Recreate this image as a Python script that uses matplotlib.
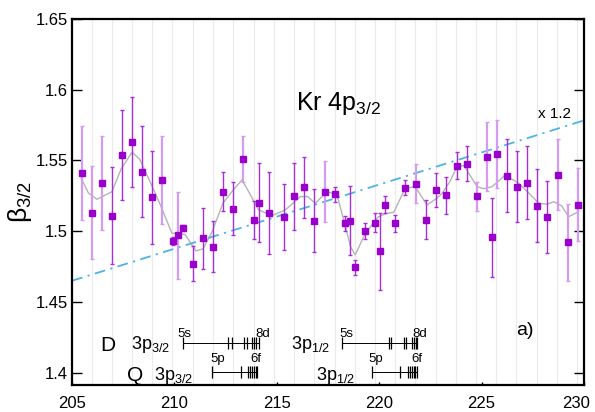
import numpy as np
import matplotlib
matplotlib.use('Agg')
import matplotlib.pyplot as plt
from matplotlib.transforms import ScaledTranslation

plt.rcParams['font.family'] = ['Liberation Sans', 'DejaVu Sans']
plt.rcParams['mathtext.fontset'] = 'custom'
plt.rcParams['mathtext.rm'] = 'Liberation Sans'
plt.rcParams['mathtext.it'] = 'Liberation Sans:italic'

# photon energy (eV), beta, error, light/dark error bar
energy = [205.47, 205.96, 206.46, 206.95, 207.44, 207.93, 208.42, 208.91, 209.39, 209.95,
          210.19, 210.43, 210.92, 211.41, 211.90, 212.39, 212.88, 213.36, 213.89, 214.15,
          214.63, 215.37, 215.85, 216.34, 216.83, 217.34, 217.86, 218.34, 218.59, 218.83,
          219.32, 219.81, 220.05, 220.30, 220.78, 221.27, 221.80, 222.30, 222.79, 223.28,
          223.78, 224.27, 224.76, 225.28, 225.52, 225.77, 226.26, 226.74, 227.23, 227.72,
          228.21, 228.72, 229.23, 229.72]
beta = [1.541, 1.513, 1.534, 1.511, 1.554, 1.563, 1.542, 1.524, 1.536, 1.493,
        1.497, 1.502, 1.477, 1.495, 1.489, 1.528, 1.516, 1.551, 1.508, 1.520,
        1.513, 1.510, 1.5245, 1.531, 1.5075, 1.528, 1.526, 1.5054, 1.5075, 1.4743,
        1.5004, 1.5061, 1.4856, 1.5188, 1.5054, 1.5308, 1.5336, 1.5082, 1.5294, 1.5252,
        1.5463, 1.5478, 1.5245, 1.5527, 1.4955, 1.5548, 1.5393, 1.5315, 1.5343, 1.5181,
        1.5103, 1.540, 1.492, 1.5188]
beta_err = [0.033, 0.033, 0.033, 0.034, 0.032, 0.032, 0.032, 0.033, 0.031, 0.003,
            0.031, 0.002, 0.0125, 0.0215, 0.018, 0.0135, 0.019, 0.016, 0.0136, 0.028,
            0.029, 0.0235, 0.024, 0.0217, 0.022, 0.0218, 0.0055, 0.005, 0.0247, 0.0053,
            0.0057, 0.0064, 0.027, 0.0057, 0.006, 0.0053, 0.0138, 0.0139, 0.012, 0.0128,
            0.0095, 0.0126, 0.0105, 0.0245, 0.028, 0.024, 0.026, 0.025, 0.026, 0.026,
            0.0255, 0.025, 0.027, 0.026]
light_bar = [1, 1, 1, 0, 0, 0, 0, 0, 1, 0,
             1, 0, 0, 0, 0, 0, 0, 1, 0, 0,
             0, 0, 0, 0, 0, 1, 0, 0, 0, 0,
             0, 0, 0, 0, 0, 0, 1, 0, 0, 0,
             0, 0, 1, 1, 0, 1, 0, 0, 0, 0,
             0, 1, 1, 1]

# smooth curve
curve_x = [205.45, 205.8, 206.22, 206.95, 207.4, 207.93, 208.3, 208.9, 209.3, 209.88,
           210.2, 210.53, 211.05, 211.4, 211.84, 212.38, 212.81, 213.3, 213.7, 214.11,
           214.77, 215.42, 216.15, 216.5, 216.88, 217.45, 217.94, 218.35, 218.6, 218.83,
           219.32, 219.97, 220.35, 220.71, 221.27, 221.76, 222.33, 222.79, 223.07, 223.45,
           223.8, 224.13, 224.5, 224.78, 225.1, 225.51, 226.16, 226.81, 227.3, 227.79,
           228.2, 228.52, 228.9, 229.25, 229.74]
curve_y = [1.5374, 1.527, 1.5225, 1.5279, 1.544, 1.5558, 1.551, 1.5321, 1.519, 1.4985,
           1.4985, 1.4975, 1.486, 1.4875, 1.4996, 1.520, 1.528, 1.5362, 1.526, 1.515,
           1.511, 1.515, 1.5244, 1.5245, 1.5197, 1.528, 1.5256, 1.5032, 1.489, 1.4832,
           1.4985, 1.5102, 1.5125, 1.5133, 1.5303, 1.5314, 1.5185, 1.523, 1.5267, 1.535,
           1.5456, 1.5463, 1.538, 1.5314, 1.530, 1.5314, 1.5397, 1.5338, 1.527, 1.5197,
           1.519, 1.5208, 1.518, 1.5102, 1.5138]

# x 1.2 reference line
ref_x = [205, 230]
ref_y = [1.4649, 1.5783]

grid_e = [205.96, 206.95, 207.93, 208.91, 209.9, 210.92, 211.9, 212.88, 213.87, 214.85,
          215.85, 216.83, 217.82, 218.8, 219.8, 220.78, 221.77, 222.76, 223.74, 224.73,
          225.72, 226.7, 227.69, 228.68, 229.67]

# Auger level markers (D = diagram, Q = satellite)
d32_ticks = [210.40, 212.63, 212.79, 213.41, 213.55, 213.77, 213.89, 214.0, 214.12]
q32_ticks = [211.86, 213.23, 213.6, 213.71, 213.81, 213.89, 213.98, 214.04]
d12_ticks = [218.2, 220.46, 220.6, 221.21, 221.33, 221.6, 221.7, 221.78, 221.86]
q12_ticks = [219.65, 221.0, 221.41, 221.52, 221.62, 221.7, 221.77, 221.83]

yticks = [1.4, 1.45, 1.5, 1.55, 1.6, 1.65]
ytick_labels = ['1.4', '1.45', '1.5', '1.55', '1.6', '1.65']
xticks = [205, 210, 215, 220, 225, 230]

fig = plt.figure(figsize=(5.95, 4.12), dpi=100)
ax = fig.add_axes([72 / 595, 1 - 385 / 412, 512 / 595, 366 / 412])

ax.set_xticks(grid_e, minor=True)
ax.grid(True, which='minor', axis='x', color='#ebebeb', lw=0.8, zorder=0)

ax.plot(curve_x, curve_y, color='#b4b4b4', lw=1.0, zorder=2)
ax.plot(ref_x, ref_y, color='#4db3e6', lw=1.3, ls=(0, (6, 3, 1.2, 3)), zorder=2.5)

e = np.array(energy)
b = np.array(beta)
er = np.array(beta_err)
lb = np.array(light_bar, dtype=bool)
ax.errorbar(e[lb], b[lb], yerr=er[lb], fmt='none', ecolor='#d49bf0', elinewidth=1.6,
            capsize=1.2, capthick=1.0, zorder=3)
ax.errorbar(e[~lb], b[~lb], yerr=er[~lb], fmt='none', ecolor='#a52fd9', elinewidth=1.0,
            capsize=1.2, capthick=1.0, zorder=3)
ax.plot(e, b, 's', ms=5.0, color='#9900cc', mec='#9900cc', zorder=4)

# level diagrams
rows = [(d32_ticks, 1.4207), (q32_ticks, 1.4002), (d12_ticks, 1.4207), (q12_ticks, 1.4002)]
for ticks, yy in rows:
    ax.plot([ticks[0], ticks[-1]], [yy, yy], color='k', lw=0.7, zorder=3)
    ax.vlines(ticks, yy - 0.0041, yy + 0.0041, color='k', lw=0.9, zorder=3)

ax.text(206.76, 1.4153, 'D', fontsize=15, ha='center', va='baseline')
ax.text(208.1, 1.3943, 'Q', fontsize=15, ha='center', va='baseline')
ax.text(209.8, 1.4167, r'3p$_{\mathregular{3/2}}$', fontsize=13, ha='right', va='baseline')
ax.text(210.9, 1.3950, r'3p$_{\mathregular{3/2}}$', fontsize=13, ha='right', va='baseline')
ax.text(217.6, 1.4167, r'3p$_{\mathregular{1/2}}$', fontsize=13, ha='right', va='baseline')
ax.text(218.82, 1.3950, r'3p$_{\mathregular{1/2}}$', fontsize=13, ha='right', va='baseline')
for xx, yy, s in [(210.49, 1.4252, '5s'), (214.30, 1.4252, '8d'), (212.13, 1.4075, '5p'),
                  (213.98, 1.4075, '6f'), (218.41, 1.4252, '5s'), (221.97, 1.4252, '8d'),
                  (219.82, 1.4075, '5p'), (221.85, 1.4075, '6f')]:
    ax.text(xx, yy, s, fontsize=9.5, ha='center', va='baseline')

ax.text(227.12, 1.4294, 'a)', fontsize=14, ha='center', va='center')
ax.text(218.04, 1.5857, r'Kr 4p$_{\mathregular{3/2}}$', fontsize=18, ha='center', va='baseline')
ax.text(227.75, 1.5800, 'x 1.2', fontsize=11, ha='left', va='baseline')

ax.set_xlim(205, 230)
ax.set_ylim(1.3912, 1.65)
ax.set_xticks(xticks)
ax.set_yticks(yticks)
ax.set_yticklabels(ytick_labels)
ax.tick_params(axis='y', which='major', direction='in', length=7, width=1,
               left=True, right=True, labelsize=12, pad=3)
ax.tick_params(axis='x', which='major', direction='in', length=2, width=1,
               labelsize=12, pad=8)
ax.tick_params(axis='x', which='minor', length=0)
for sp in ax.spines.values():
    sp.set_linewidth(1.6)
ax.set_ylabel(r'$\mathregular{\beta_{3/2}}$', fontsize=19, labelpad=1)

# last x label sits a little to the left so it stays inside the figure
last = ax.get_xticklabels()[-1]
last.set_transform(last.get_transform() + ScaledTranslation(-6 / 72, 0, fig.dpi_scale_trans))

fig.savefig('out.png', dpi=100)
